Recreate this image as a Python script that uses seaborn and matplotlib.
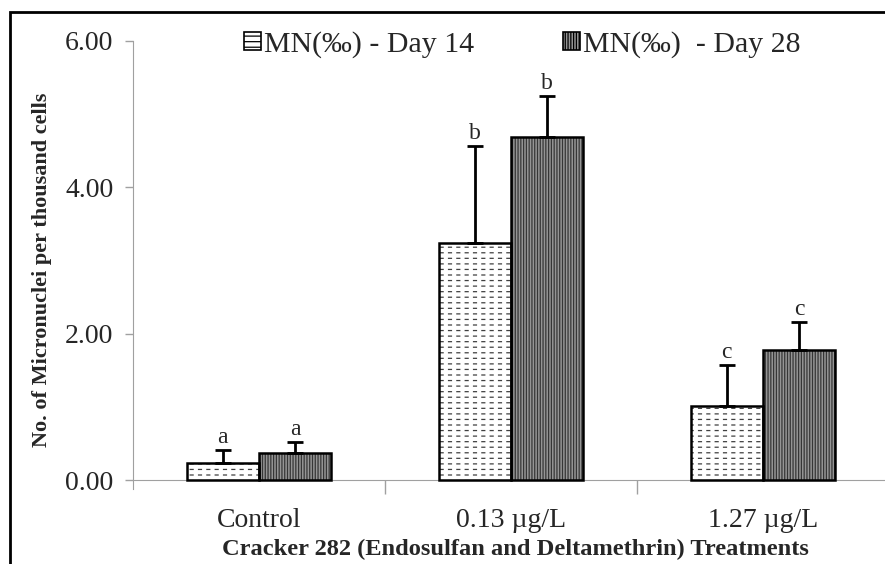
import pandas as pd
import seaborn as sns
import matplotlib
matplotlib.use("Agg")
import matplotlib.pyplot as plt
from matplotlib.patches import Rectangle, Patch
from matplotlib.ticker import FixedLocator

sns.set_style("white")
plt.rcParams['font.family'] = ['Liberation Serif', 'DejaVu Serif']
plt.rcParams['hatch.linewidth'] = 0.9

#--------------------------------------------------------------------------------------------------
# values
treatments = ["Control", "0.13 \u00b5g/L", "1.27 \u00b5g/L"]
days = ["MN(\u2030) - Day 14", "MN(\u2030)  - Day 28"]
day14_mean = [0.23, 3.24, 1.01]
day14_err = [0.18, 1.32, 0.56]
day28_mean = [0.37, 4.69, 1.78]
day28_err = [0.15, 0.56, 0.38]
day14_letters = ["a", "b", "c"]
day28_letters = ["a", "b", "c"]
y_ticks = [0, 2, 4, 6]
y_ticklabels = ["0.00", "2.00", "4.00", "6.00"]

df = pd.DataFrame({
	"treatment": treatments * 2,
	"day": [days[0]] * 3 + [days[1]] * 3,
	"value": day14_mean + day28_mean,
})

fig = plt.figure(figsize=(8.85, 5.64), dpi=100)
ax = fig.add_axes([133 / 885, 1 - 489 / 564, 756 / 885, 448 / 564])

sns.barplot(data=df, x="treatment", y="value", hue="day", order=treatments, hue_order=days,
            errorbar=None, width=0.575, gap=0, palette=["white", "#9c9c9c"],
            edgecolor="#505050", linewidth=0, legend=False, ax=ax)

styles = [("white", "#404040", "---"), ("#959595", "#363636", "||||||")]
errs = [day14_err, day28_err]
letters = [day14_letters, day28_letters]
bar_groups = list(ax.containers)
for k, cont in enumerate(bar_groups):
	fc, hc, hatch = styles[k]
	for i, bar in enumerate(cont):
		bar.set_facecolor(fc)
		bar.set_edgecolor(hc)
		bar.set_hatch(hatch)
		bar.set_linewidth(0)
		x0, y0 = bar.get_xy()
		w, h = bar.get_width(), bar.get_height()
		if k == 0:
			# white vertical strokes break the lines into dashes
			cut = Rectangle((x0, y0), w, h, facecolor="none", edgecolor="white", hatch="||",
			                lw=0, zorder=2.5)
			if hasattr(cut, "set_hatch_linewidth"):
				cut.set_hatch_linewidth(3)
			ax.add_patch(cut)
		ax.add_patch(Rectangle((x0, y0), w, h, fill=False, edgecolor="black", lw=1.8, zorder=3))
		xc = x0 + w / 2
		ax.errorbar(xc, h, yerr=[[0], [errs[k][i]]], color="black", lw=2, capsize=6,
		            capthick=2, zorder=4)
		ax.text(xc, h + errs[k][i] + 0.03, letters[k][i], ha="center", va="bottom", fontsize=17)

ax.set_xlim(-0.5, 2.5)
ax.set_ylim(-0.12, 6.0)
ax.set_yticks(y_ticks)
ax.set_yticklabels(y_ticklabels, fontsize=20)
ax.tick_params(axis="y", direction="out", length=6, width=1, color="#a0a0a0", left=True, pad=8)
ax.xaxis.set_minor_locator(FixedLocator([0.5, 1.5]))
ax.tick_params(axis="x", which="major", length=0, pad=20, labelsize=20)
ax.tick_params(axis="x", which="minor", direction="out", length=10, width=1, color="#a0a0a0", bottom=True)

for s in ["top", "right"]:
	ax.spines[s].set_visible(False)
ax.spines["left"].set_color("#a0a0a0")
ax.spines["bottom"].set_color("#a0a0a0")
ax.spines["bottom"].set_position(("data", 0))

ax.set_xlabel("Cracker 282 (Endosulfan and Deltamethrin) Treatments", fontsize=17.6,
              fontweight="bold", labelpad=0)
ax.xaxis.set_label_coords(0.506, -0.112)
ax.set_ylabel("No. of Micronuclei per thousand cells", fontsize=16, fontweight="bold")
ax.yaxis.set_label_coords(-0.107, 0.49)

handles = [Patch(facecolor="white", edgecolor="black", hatch="---", lw=1.2),
           Patch(facecolor="#959595", edgecolor="black", hatch="||||||", lw=1.2)]
ax.legend(handles, days, loc="center", bbox_to_anchor=(0.515, 0.992), ncol=2, frameon=False,
          fontsize=21.5, handlelength=0.55, handleheight=0.55, handletextpad=0.1, columnspacing=3.0)

fig.patches.append(Rectangle((10 / 885, -0.1), 1.2, 1.1 - 12 / 564, fill=False, edgecolor="black",
                             lw=2, transform=fig.transFigure, figure=fig))

fig.savefig("out.png", dpi=100)
